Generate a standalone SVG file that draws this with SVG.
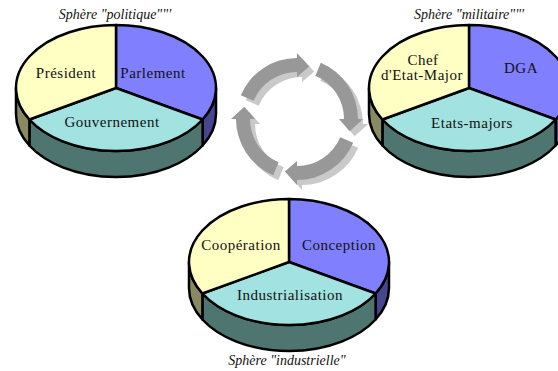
<svg xmlns="http://www.w3.org/2000/svg" xmlns:xlink="http://www.w3.org/1999/xlink" width="558" height="371" viewBox="0 0 558 371">
  <style>
    .edge { stroke: #000; stroke-width: 2.5; stroke-linejoin: round; }
    .top-y { fill: #ffffc4; }
    .top-b { fill: #8080ff; }
    .top-c { fill: #a2e2e0; }
    .side-y { fill: #8a8a62; }
    .side-b { fill: #46468e; }
    .side-c { fill: #4f7571; }
    .label { font-family: "Liberation Serif", "Times New Roman", serif; font-size: 15px; letter-spacing: 0.5px; fill: #111; text-anchor: middle; }
    .title { font-family: "Liberation Serif", "Times New Roman", serif; font-size: 14px; font-style: italic; fill: #111; text-anchor: middle; }
    .arrow-dark { fill: #989898; }
    .arrow-light { fill: #c9c9c9; }
  </style>
  <defs>
    <!-- 3D pie with three equal slices, centred on the top face -->
    <g id="pie">
      <!-- sides -->
      <path class="side-b edge" d="M86.6,31.5 A100,63 0 0 0 100,0 L100,26 A100,63 0 0 1 86.6,57.5 Z"/>
      <path class="side-c edge" d="M86.6,31.5 L86.6,57.5 A100,63 0 0 1 -86.6,57.5 L-86.6,31.5 A100,63 0 0 0 86.6,31.5 Z"/>
      <path class="side-y edge" d="M-86.6,31.5 L-86.6,57.5 A100,63 0 0 1 -100,26 L-100,0 A100,63 0 0 0 -86.6,31.5 Z"/>
      <!-- top face -->
      <path class="top-b edge" d="M0,0 L0,-63 A100,63 0 0 1 86.6,31.5 Z"/>
      <path class="top-c edge" d="M0,0 L86.6,31.5 A100,63 0 0 1 -86.6,31.5 Z"/>
      <path class="top-y edge" d="M0,0 L-86.6,31.5 A100,63 0 0 1 0,-63 Z"/>
    </g>
    <!-- one quarter of the circular arrow, clockwise, centred at origin -->
    <path id="arc-arrow" d="M-56.15,-23.83 A61,61 0 0 1 0,-61 L0,-66 L12.15,-52.62 L0,-42 L0,-47 A47,47 0 0 0 -43.26,-18.36 Z"/>
  </defs>

  <g id="cycle">
    <g class="arrow-light" transform="translate(302,124)">
      <use xlink:href="#arc-arrow"/>
      <use xlink:href="#arc-arrow" transform="rotate(90)"/>
      <use xlink:href="#arc-arrow" transform="rotate(180)"/>
      <use xlink:href="#arc-arrow" transform="rotate(270)"/>
    </g>
    <g class="arrow-dark" transform="translate(297,119)">
      <use xlink:href="#arc-arrow"/>
      <use xlink:href="#arc-arrow" transform="rotate(90)"/>
      <use xlink:href="#arc-arrow" transform="rotate(180)"/>
      <use xlink:href="#arc-arrow" transform="rotate(270)"/>
    </g>
  </g>

  <g id="sphere-politique">
    <text class="title" x="115" y="19">Sphère "politique""'</text>
    <use xlink:href="#pie" transform="translate(116,88)"/>
    <text class="label" x="66" y="78">Président</text>
    <text class="label" x="153" y="78">Parlement</text>
    <text class="label" x="112" y="127">Gouvernement</text>
  </g>

  <g id="sphere-militaire">
    <text class="title" x="469" y="19">Sphère "militaire""'</text>
    <use xlink:href="#pie" transform="translate(469,88)"/>
    <text class="label" x="423" y="65">Chef</text>
    <text class="label" x="422" y="80">d'Etat-Major</text>
    <text class="label" x="521" y="73">DGA</text>
    <text class="label" x="472" y="128">Etats-majors</text>
  </g>

  <g id="sphere-industrielle">
    <use xlink:href="#pie" transform="translate(289,262)"/>
    <text class="label" x="241" y="250">Coopération</text>
    <text class="label" x="339" y="250">Conception</text>
    <text class="label" x="290" y="300">Industrialisation</text>
    <text class="title" x="287" y="365">Sphère "industrielle"</text>
  </g>
</svg>
